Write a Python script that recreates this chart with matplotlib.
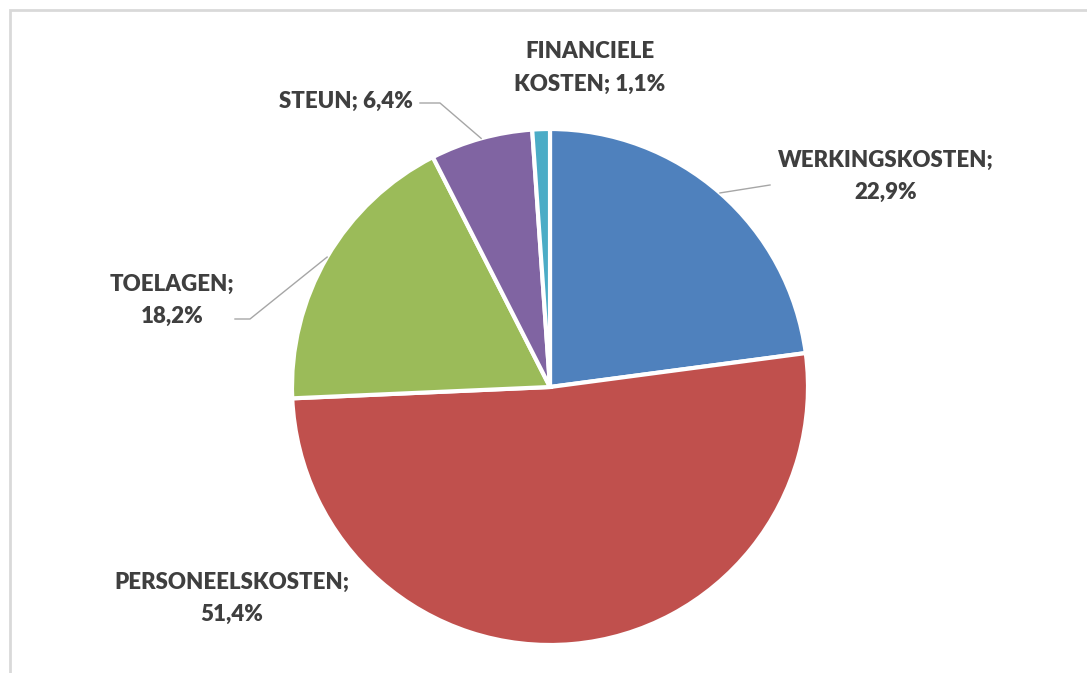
import numpy as np
import matplotlib.pyplot as plt

# Kostenverdeling (aandeel in %)
categories = ["WERKINGSKOSTEN", "PERSONEELSKOSTEN", "TOELAGEN", "STEUN", "FINANCIELE KOSTEN"]
values = [22.9, 51.4, 18.2, 6.4, 1.1]
colors = ["#4F81BD", "#C0504D", "#9BBB59", "#8064A2", "#4BACC6"]

W, H = 1087, 673
fig = plt.figure(figsize=(W / 100, H / 100), dpi=100)

# pie centre and radius in pixels
cx, cy, r = 550, 387, 258
ax = fig.add_axes([(cx - r) / W, (H - cy - r) / H, 2 * r / W, 2 * r / H])
wedges, _ = ax.pie(values, colors=colors, startangle=90, counterclock=False,
                   radius=1, wedgeprops=dict(edgecolor="white", linewidth=3))
ax.set_xlim(-1, 1)
ax.set_ylim(-1, 1)
ax.set_aspect("equal")
ax.axis("off")

# light frame (only top/left edge visible)
frame = plt.Rectangle((10 / W, -0.1), 1.2, (H - 10) / H + 0.1, transform=fig.transFigure,
                      fill=False, edgecolor="#D9D9D9", linewidth=2)
fig.add_artist(frame)


def fmt(v):
    return f"{v:.1f}".replace(".", ",") + "%"


def px(x, y):
    return x / W, 1 - y / H


txt = dict(fontsize=16, fontweight="heavy", color="#3F3F3F", family=["Lato", "DejaVu Sans"],
           ha="center", va="center", linespacing=1.65)

# label text positions (pixels), line break choice per label
labels = {
    0: ((886, 176), "{};\n{}"),
    1: ((232, 598), "{};\n{}"),
    2: ((172, 300), "{};\n{}"),
    3: ((346, 101), "{}; {}"),
    4: ((590, 68), "FINANCIELE\nKOSTEN; {1}"),
}
for i, ((lx, ly), form) in labels.items():
    s = form.format(categories[i], fmt(values[i]))
    fig.text(*px(lx, ly), s, **txt)

# leader lines from the wedge edge to the label
leaders = {0: [(770, 185)], 2: [(250, 319), (235, 319)], 3: [(440, 103), (420, 103)]}
for i, pts in leaders.items():
    w = wedges[i]
    mid = np.deg2rad((w.theta1 + w.theta2) / 2)
    start = (cx + r * np.cos(mid), cy - r * np.sin(mid))
    xs = [start[0]] + [p[0] for p in pts]
    ys = [start[1]] + [p[1] for p in pts]
    fig.add_artist(plt.Line2D([x / W for x in xs], [1 - y / H for y in ys],
                              transform=fig.transFigure, color="#A6A6A6", linewidth=1))

fig.savefig("out.png", dpi=100, facecolor="white")
